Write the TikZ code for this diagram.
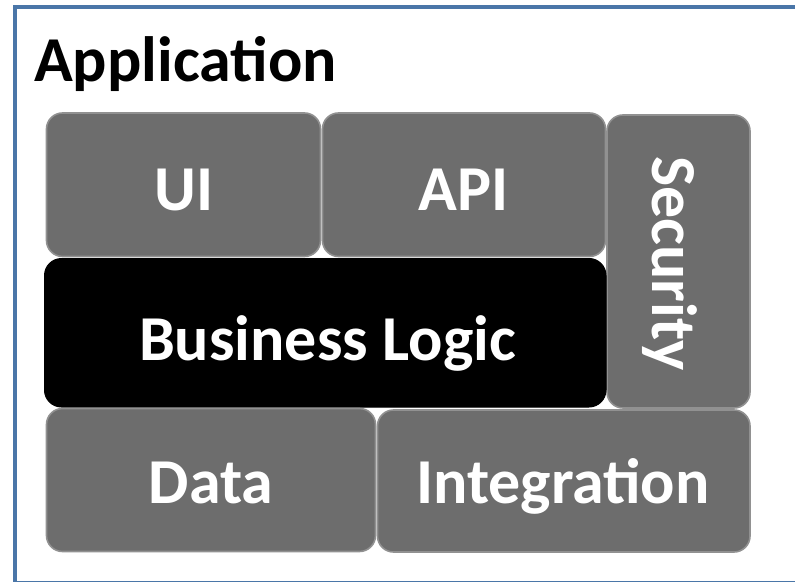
\documentclass[tikz,border=0pt]{standalone}
\usepackage{fontspec}
\setmainfont{Carlito}
\definecolor{framecol}{RGB}{74,118,168}
\definecolor{boxfill}{RGB}{109,109,109}
\definecolor{boxline}{RGB}{145,145,145}
\begin{document}
\begin{tikzpicture}[x=1bp,y=-1bp,
  box/.style={draw=boxline, line width=1.6bp, fill=boxfill, rounded corners=16bp},
  blackbox/.style={draw=black, line width=1bp, fill=black, rounded corners=17bp},
  lbl/.style={text=white, font=\bfseries\fontsize{64bp}{72bp}\selectfont, inner sep=0pt, anchor=base},
  title/.style={text=black, font=\bfseries\fontsize{64bp}{72bp}\selectfont, inner sep=0pt, anchor=base west}]
\useasboundingbox (0,0) rectangle (795,582);
\draw[framecol, line width=4bp] (14.5,7.5) rectangle (800,582.8);
\node[title] (apptitle) at (34,81.5) {Application};
% boxes
\path[box] (46.5,113) rectangle (320.5,256.5) coordinate (uibr);
\path[box] (322.5,113) rectangle (605.5,256.5) coordinate (apibr);
\path[box] (607,115) rectangle (750,408) coordinate (secbr);
\path[blackbox] (44.5,258.5) rectangle (606,407) coordinate (blbr);
\path[box] (46.5,408.5) rectangle (375.5,551.5) coordinate (databr);
\path[box] (377.5,410) rectangle (750,552) coordinate (intbr);
% labels
\node[lbl] (ui) at (184,210.5) {UI};
\node[lbl] (api) at (463.5,210.5) {API};
\node[lbl] (bl) at (327.5,360) {Business Logic};
\node[lbl] (data) at (211,503) {Data};
\node[lbl] (integ) at (563,503) {Integration};
\node[lbl, rotate=-90] (sec) at (652,263.5) {Security};
\end{tikzpicture}
\end{document}
